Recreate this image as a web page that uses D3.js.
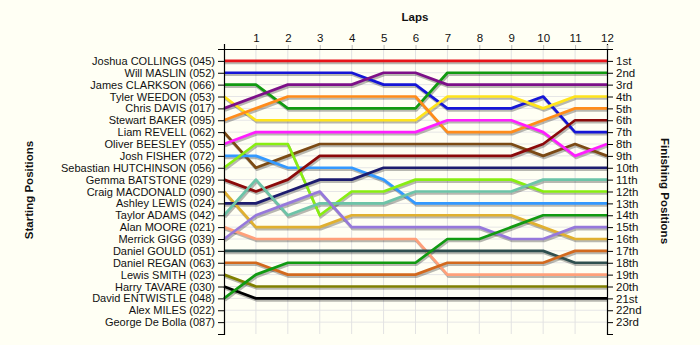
<!DOCTYPE html>
<html>
<head>
<meta charset="utf-8">
<script src="https://cdn.jsdelivr.net/npm/d3@7"></script>
<style>
  html, body { margin: 0; padding: 0; background: #fffff4; }
  svg { display: block; font-family: "Liberation Sans", Arial, sans-serif; }
</style>
</head>
<body>
<svg id="chart" width="700" height="345"></svg>
<script>
// Lap numbers shown on the top axis
const laps = [0, 1, 2, 3, 4, 5, 6, 7, 8, 9, 10, 11, 12];

// Grid slots in starting order (positions 1..23)
const startingLabels = [
  "Joshua COLLINGS (045)", "Will MASLIN (052)", "James CLARKSON (066)",
  "Tyler WEEDON (053)", "Chris DAVIS (017)", "Stewart BAKER (095)",
  "Liam REVELL (062)", "Oliver BEESLEY (055)", "Josh FISHER (072)",
  "Sebastian HUTCHINSON (056)", "Gemma BATSTONE (029)", "Craig MACDONALD (090)",
  "Ashley LEWIS (024)", "Taylor ADAMS (042)", "Alan MOORE (021)",
  "Merrick GIGG (039)", "Daniel GOULD (051)", "Daniel REGAN (063)",
  "Lewis SMITH (023)", "Harry TAVARE (030)", "David ENTWISTLE (048)",
  "Alex MILES (022)", "George De Bolla (087)"
];

const finishingLabels = [
  "1st", "2nd", "3rd", "4th", "5th", "6th", "7th", "8th", "9th", "10th",
  "11th", "12th", "13th", "14th", "15th", "16th", "17th", "18th", "19th",
  "20th", "21st", "22nd", "23rd"
];

// Running position of each driver at the end of every lap (lap 0 = grid)
const racePositions = [
  [1, 1, 1, 1, 1, 1, 1, 1, 1, 1, 1, 1, 1],            // COLLINGS
  [2, 2, 2, 2, 2, 3, 3, 5, 5, 5, 4, 7, 7],            // MASLIN
  [3, 3, 5, 5, 5, 5, 5, 2, 2, 2, 2, 2, 2],            // CLARKSON
  [4, 6, 6, 6, 6, 6, 6, 4, 4, 4, 5, 4, 4],            // WEEDON
  [5, 4, 3, 3, 3, 2, 2, 3, 3, 3, 3, 3, 3],            // DAVIS
  [6, 5, 4, 4, 4, 4, 4, 7, 7, 7, 6, 5, 5],            // BAKER
  [7, 10, 9, 8, 8, 8, 8, 8, 8, 8, 9, 8, 9],           // REVELL
  [8, 7, 7, 7, 7, 7, 7, 6, 6, 6, 7, 9, 8],            // BEESLEY
  [9, 9, 10, 10, 10, 11, 13, 13, 13, 13, 13, 13, 13], // FISHER
  [10, 8, 8, 14, 12, 12, 11, 11, 11, 11, 12, 12, 12], // HUTCHINSON
  [11, 12, 11, 9, 9, 9, 9, 9, 9, 9, 8, 6, 6],         // BATSTONE
  [12, 15, 15, 15, 14, 14, 14, 14, 14, 14, 15, 16, 16], // MACDONALD
  [13, 13, 12, 11, 11, 10, 10, 10, 10, 10, 10, 10, 10], // LEWIS
  [14, 11, 14, 13, 13, 13, 12, 12, 12, 12, 11, 11, 11], // ADAMS
  [15, 16, 16, 16, 16, 16, 16, 19, 19, 19, 19, 19, 19], // MOORE
  [16, 14, 13, 12, 15, 15, 15, 15, 15, 16, 16, 15, 15], // GIGG
  [17, 17, 17, 17, 17, 17, 17, 17, 17, 17, 17, 18, 18], // GOULD
  [18, 18, 19, 19, 19, 19, 19, 18, 18, 18, 18, 17, 17], // REGAN
  [19, 20, 20, 20, 20, 20, 20, 20, 20, 20, 20, 20, 20], // SMITH
  [20, 21, 21, 21, 21, 21, 21, 21, 21, 21, 21, 21, 21], // TAVARE
  [21, 19, 18, 18, 18, 18, 18, 16, 16, 15, 14, 14, 14]  // ENTWISTLE
];

const driverColors = [
  "#e8141a", "#1515d6", "#119a11", "#ffe41a", "#7d1088", "#ff8c1a",
  "#7b4a14", "#ff1eff", "#3399ff", "#88ee11", "#8b0a0a", "#e0b030",
  "#1c1c6e", "#6cc4a8", "#ffa07a", "#9678db", "#2f4f4f", "#d2691e",
  "#808000", "#000000", "#119a11"
];

const svg = d3.select("#chart");
const W = 700, H = 345;
svg.append("rect").attr("width", W).attr("height", H).attr("fill", "#fffff4");

const x = d3.scaleLinear().domain([0, 12]).range([224, 607]);
const y = d3.scaleLinear().domain([0, 24]).range([49, 334]);
const rows = d3.range(1, 24);

// Grid
const grid = svg.append("g");
grid.selectAll("line.h").data(rows).join("line")
  .attr("x1", x(0)).attr("x2", x(12))
  .attr("y1", d => y(d)).attr("y2", d => y(d))
  .attr("stroke", "#e6e6e6").attr("stroke-width", 1);
grid.selectAll("line.v").data(laps.slice(1, -1)).join("line")
  .attr("x1", d => x(d)).attr("x2", d => x(d))
  .attr("y1", y(0)).attr("y2", y(24))
  .attr("stroke", "#e2e2e2").attr("stroke-width", 1);

// Lap traces with a soft drop shadow
const line = d3.line()
  .x((d, i) => x(laps[i]))
  .y(d => y(d));

const traces = svg.append("g");
traces.selectAll("path.shadow").data(racePositions).join("path")
  .attr("class", "shadow")
  .attr("d", line)
  .attr("transform", "translate(1,2)")
  .attr("fill", "none")
  .attr("stroke", "rgba(0,0,0,0.28)")
  .attr("stroke-width", 2.7)
  .attr("stroke-linejoin", "round");
traces.selectAll("path.trace").data(racePositions).join("path")
  .attr("class", "trace")
  .attr("d", line)
  .attr("fill", "none")
  .attr("stroke", (d, i) => driverColors[i])
  .attr("stroke-width", 2.7)
  .attr("stroke-linejoin", "round");

// Axes
const styleAxis = g => {
  g.selectAll("path.domain").attr("stroke", "#000").attr("stroke-width", 1.2);
  g.selectAll(".tick line").attr("stroke", "#000");
  g.selectAll(".tick text").attr("fill", "#111").attr("font-size", 11)
    .attr("font-family", "\"Liberation Sans\", Arial, sans-serif");
};

svg.append("g")
  .attr("transform", `translate(${x(0)},0)`)
  .call(d3.axisLeft(y).tickValues(rows)
    .tickFormat(d => startingLabels[d - 1]).tickSize(6).tickPadding(3))
  .call(styleAxis);

svg.append("g")
  .attr("transform", `translate(${x(12)},0)`)
  .call(d3.axisRight(y).tickValues(rows)
    .tickFormat(d => finishingLabels[d - 1]).tickSize(6).tickPadding(3))
  .call(styleAxis)
  .call(g => g.selectAll(".tick text").attr("font-size", 11.5));

svg.append("g")
  .attr("transform", `translate(0,${y(0)})`)
  .call(d3.axisTop(x).tickValues(laps.slice(1))
    .tickFormat(d3.format("d")).tickSize(4).tickSizeOuter(5).tickPadding(3))
  .call(styleAxis)
  .call(g => g.selectAll(".tick line").attr("stroke", "#bbb"))
  .call(g => g.selectAll(".tick text").attr("font-size", 11.5));

// Titles
const titleFont = "\"Liberation Sans\", Arial, sans-serif";
svg.append("text")
  .attr("x", 415).attr("y", 21)
  .attr("text-anchor", "middle")
  .attr("font-family", titleFont).attr("font-size", 11.5).attr("font-weight", "bold")
  .attr("fill", "#111")
  .text("Laps");

svg.append("text")
  .attr("transform", "translate(33,190) rotate(-90)")
  .attr("text-anchor", "middle")
  .attr("font-family", titleFont).attr("font-size", 11.5).attr("font-weight", "bold")
  .attr("fill", "#111")
  .text("Starting Positions");

svg.append("text")
  .attr("transform", "translate(661,191) rotate(90)")
  .attr("text-anchor", "middle")
  .attr("font-family", titleFont).attr("font-size", 11.5).attr("font-weight", "bold")
  .attr("fill", "#111")
  .text("Finishing Positions");
</script>
</body>
</html>
